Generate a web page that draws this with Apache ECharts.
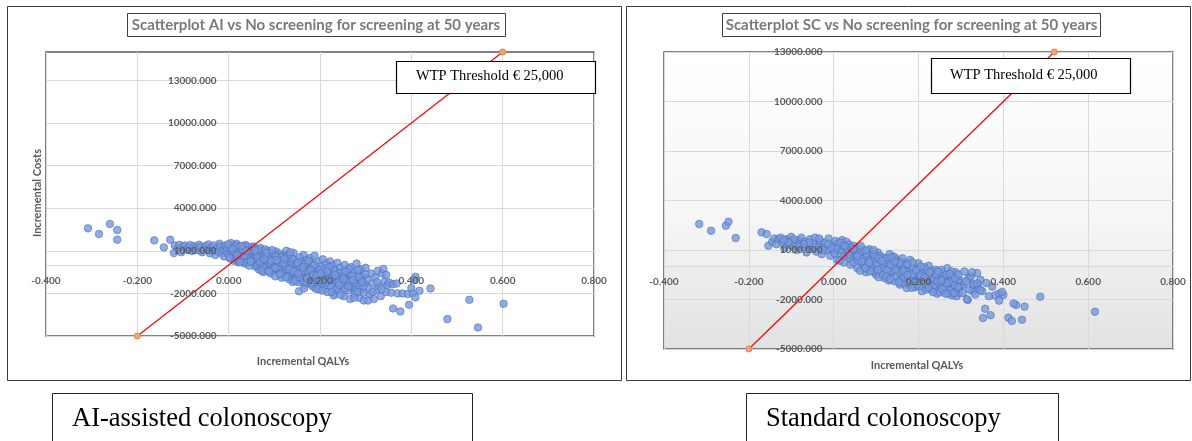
<!DOCTYPE html>
<html>
<head>
<meta charset="utf-8">
<script src="https://cdn.jsdelivr.net/npm/echarts@6/dist/echarts.min.js"></script>
<style>
html,body{margin:0;padding:0;background:#fff;}
#chart{width:1192px;height:441px;}
</style>
</head>
<body>
<div id="chart"></div>
<script>
// incremental QALYs / incremental costs
var aiPoints = [
  [-0.308,2580],[-0.284,2185],[-0.260,2890],[-0.244,2470],[-0.244,1785],[-0.163,1735],[-0.142,1240],[-0.128,1785],[-0.120,845],
  [-0.118,1380],[-0.112,1150],[-0.108,1420],[-0.104,900],[-0.100,1300],[-0.095,1380],[-0.092,1100],[-0.088,1250],[-0.084,1400],
  [-0.080,980],[-0.076,1320],[-0.072,1180],[-0.068,1050],[-0.065,1420],[-0.061,1280],[-0.058,900],[-0.054,1150],[-0.050,1350],
  [-0.047,1100],[-0.044,1450],[-0.041,820],[-0.038,1250],[-0.035,1000],[-0.032,1380],[-0.029,700],[-0.026,1180],[-0.023,950],
  [-0.020,1500],[-0.018,1300],[-0.015,820],[-0.012,1100],[-0.010,600],[-0.008,1350],[-0.005,980],[-0.003,1200],[0.000,750],
  [0.002,1420],[0.004,1050],[0.005,450],[0.007,1250],[0.009,880],[0.011,300],[0.013,1100],[0.015,650],[0.017,1500],[0.019,950],
  [0.021,200],[0.023,1300],[0.025,720],[0.027,1050],[0.029,400],[0.031,1200],[0.033,850],[0.035,100],[0.037,1400],[0.039,600],
  [0.041,980],[0.043,300],[0.045,1150],[0.047,750],[0.049,500],[0.050,1280],[0.052,900],[0.054,200],[0.056,1150],[0.058,-100],
  [0.060,650],[0.062,1050],[0.064,350],[0.066,-300],[0.068,800],[0.070,1200],[0.072,100],[0.074,550],[0.076,-500],[0.078,950],
  [0.080,300],[0.082,-150],[0.084,700],[0.086,1000],[0.088,0],[0.090,450],[0.092,-600],[0.094,850],[0.096,200],[0.098,-350],
  [0.100,600],[0.102,-800],[0.104,950],[0.106,150],[0.108,-400],[0.110,500],[0.112,800],[0.114,-100],[0.116,-900],[0.118,300],
  [0.120,700],[0.122,-550],[0.124,50],[0.126,1000],[0.128,-250],[0.130,400],[0.132,-1000],[0.134,650],[0.136,-600],[0.138,150],
  [0.140,-150],[0.142,850],[0.144,-750],[0.146,350],[0.148,-400],[0.150,0],[0.152,-1200],[0.154,-1850],[0.156,550],[0.158,-700],
  [0.160,200],[0.162,-1000],[0.164,700],[0.166,-300],[0.168,-1400],[0.170,350],[0.172,-600],[0.174,-100],[0.176,-1150],[0.178,500],
  [0.180,-850],[0.182,100],[0.184,-1500],[0.186,-350],[0.188,650],[0.190,-1000],[0.192,-200],[0.194,-1300],[0.196,250],[0.198,-700],
  [0.200,-1700],[0.202,-100],[0.204,-1100],[0.206,400],[0.208,-500],[0.210,-1500],[0.212,-800],[0.214,100],[0.216,-1900],[0.218,-300],
  [0.220,-1200],[0.222,250],[0.224,-650],[0.226,-1600],[0.228,-50],[0.230,-1000],[0.232,-2000],[0.234,-400],[0.236,-1350],[0.238,150],
  [0.240,-800],[0.242,-1750],[0.244,-200],[0.246,-1100],[0.248,-550],[0.250,-1500],[0.252,-2200],[0.254,0],[0.256,-900],[0.258,-1300],
  [0.260,-400],[0.262,-1800],[0.264,-700],[0.266,-2400],[0.268,-150],[0.270,-1100],[0.272,-1600],[0.274,-500],[0.276,-2000],[0.278,-900],
  [0.280,100],[0.282,-1400],[0.284,-600],[0.286,-2300],[0.288,-1100],[0.290,-300],[0.292,-1700],[0.294,-800],[0.296,-2500],[0.298,-1300],
  [0.300,-200],[0.303,-1000],[0.306,-1600],[0.309,-2100],[0.312,-600],[0.315,-1300],[0.318,-2400],[0.321,-900],[0.324,-1800],[0.327,-400],
  [0.330,-1500],[0.333,-2200],[0.336,-590],[0.339,-280],[0.342,-1150],[0.345,-1900],[0.348,-1400],
  [0.012,780],[0.018,1180],[0.024,520],[0.030,900],[0.036,1320],[0.042,700],[0.048,1000],[0.053,420],[0.057,780],[0.063,-50],
  [0.067,480],[0.071,880],[0.075,250],[0.079,620],[0.083,-350],[0.087,380],[0.091,750],[0.095,-200],[0.099,300],[0.103,650],
  [0.107,-150],[0.111,200],[0.115,550],[0.119,-450],[0.123,-50],[0.127,350],[0.131,-700],[0.135,-300],[0.139,450],[0.143,-500],
  [0.147,-950],[0.151,150],[0.155,-300],[0.159,-650],[0.163,-1250],[0.167,100],[0.171,-450],[0.175,-850],[0.179,-250],[0.183,-1150],
  [0.187,0],[0.191,-550],[0.195,-900],[0.199,-350],[0.203,-1350],[0.207,-750],[0.211,-250],[0.215,-1100],[0.219,-600],[0.223,-1450],
  [0.227,-900],[0.231,-350],[0.235,-1700],[0.239,-1000],[0.243,-550],[0.247,-1300],[0.251,-800],[0.255,-1650],[0.259,-1050],[0.263,-250],
  [0.267,-1500],[0.271,-750],[0.275,-1250],[0.279,-1750],[0.283,-350],[0.287,-1550],[0.291,-1000],[0.295,-1950],[0.299,-650],
  [0.010,1000],[0.020,400],[0.030,1100],[0.040,150],[0.060,900],[0.070,-200],[0.080,1100],[0.090,150],[0.110,-300],[0.120,100],
  [0.130,700],[0.140,-1200],[0.160,-450],[0.170,-1250],[0.180,-350],[0.190,-1650],[0.210,-1050],[0.220,-150],[0.230,-2150],[0.240,-1200],
  [0.005,1550],[0.015,1350],[0.025,200],[0.035,650],[0.045,-50],[0.055,1300],[0.065,1100],[0.075,-150],[0.085,550],[0.095,1050],
  [0.105,350],[0.115,-600],[0.125,-850],[0.135,900],[0.145,-1100],[0.155,-850],[0.165,-1650],[0.175,300],[0.185,-700],[0.195,-1700],
  [0.205,-1800],[0.215,-450],[0.225,-1900],[0.235,-750],[0.245,-2100],[0.255,-450],[0.265,-1200],[0.275,-2300],[0.285,-850],[0.295,-1500],
  [0.305,-2500],[0.315,-1900],[0.325,-1200],[0.335,-1700],[0.345,-700],[0.062,600],[0.072,-400],[0.082,850],[0.092,300],[0.102,-200],
  [0.112,-650],[0.122,450],[0.132,-300],[0.142,-450],[0.152,-600],[0.162,-150],[0.172,-950],[0.182,-1300],[0.192,-750],[0.202,-600],
  [0.212,-1250],[0.222,-1000],[0.232,-700],[0.242,-1400],[0.252,-1000],[0.262,-1500],[0.272,-1050],[0.282,-1900],[0.292,-1200],[0.002,500],
  [-0.002,1450],[0.008,1150],[0.018,700],[0.028,1350],[0.038,1000],[0.048,250],[0.058,1000],[0.068,200],[0.078,400],[0.088,-450],
  [0.352,-1250],[0.360,-1350],[0.368,-1300],[0.356,-1950],[0.370,-2000],[0.381,-2000],[0.392,-2050],[0.403,-1980],[0.409,-825],
  [0.407,-1050],[0.400,-1620],[0.418,-1810],[0.442,-1650],[0.409,-2280],[0.360,-3060],[0.376,-3270],[0.395,-2800],[0.527,-2450],
  [0.602,-2730],[0.479,-3810],[0.546,-4400]
];

var scPoints = [
  [-0.317,2575],[-0.289,2170],[-0.254,2470],[-0.248,2715],[-0.231,1727],[-0.170,2070],[-0.158,1970],[-0.154,1260],
  [-0.145,1500],[-0.140,1700],[-0.135,1350],[-0.130,1650],[-0.125,1750],[-0.120,1450],[-0.116,1100],[-0.112,1650],[-0.108,1300],
  [-0.104,1550],[-0.100,1800],[-0.096,1200],[-0.092,1450],[-0.088,1000],[-0.084,1600],[-0.080,1350],[-0.076,1750],[-0.072,1150],
  [-0.068,1500],[-0.064,850],[-0.060,1300],[-0.056,1650],[-0.052,1050],[-0.048,1400],[-0.044,1750],[-0.040,900],[-0.036,1250],
  [-0.032,1550],[-0.028,750],[-0.024,1150],[-0.020,1450],[-0.016,1000],[-0.012,1700],[-0.008,650],[-0.004,1300],[0.000,950],
  [0.004,1550],[0.008,400],[0.012,1200],[0.016,800],[0.020,1600],[0.024,250],[0.028,1050],[0.032,600],[0.036,1350],[0.040,100],
  [0.044,900],[0.048,1250],[0.052,450],[0.056,-100],[0.060,1100],[0.064,700],[0.068,200],[0.072,950],[0.076,-350],[0.080,500],
  [0.084,1050],[0.088,-100],[0.092,650],[0.096,250],[0.100,-500],[0.104,850],[0.108,100],[0.112,-250],[0.116,550],[0.120,-700],
  [0.124,300],[0.128,-50],[0.132,750],[0.136,-400],[0.140,150],[0.144,-900],[0.148,450],[0.152,-200],[0.156,-1100],[0.160,300],
  [0.164,-550],[0.168,50],[0.172,-1300],[0.176,-250],[0.180,400],[0.184,-800],[0.188,-100],[0.192,-1250],[0.196,-450],[0.200,200],
  [0.204,-900],[0.208,-1500],[0.212,-300],[0.216,-700],[0.220,-1200],[0.224,50],[0.228,-550],[0.232,-1400],[0.236,-900],[0.240,-200],
  [0.244,-1650],[0.248,-650],[0.252,-1100],[0.256,-400],[0.260,-1500],[0.264,-850],[0.268,-100],[0.272,-1300],[0.276,-600],[0.280,-1750],
  [0.284,-950],[0.288,-350],[0.292,-1450],[0.296,-800],[0.300,-1200],
  [0.002,800],[0.010,1400],[0.014,350],[0.018,1000],[0.022,1300],[0.026,650],[0.030,1500],[0.034,950],[0.038,500],[0.042,1150],
  [0.046,250],[0.050,800],[0.054,1000],[0.058,350],[0.062,-250],[0.066,900],[0.070,500],[0.074,150],[0.078,750],[0.082,-200],
  [0.086,400],[0.090,850],[0.094,-300],[0.098,450],[0.102,150],[0.106,-650],[0.110,650],[0.114,-100],[0.118,250],[0.122,-450],
  [0.126,500],[0.130,-850],[0.134,100],[0.138,-300],[0.142,600],[0.146,-600],[0.150,50],[0.154,-350],[0.158,-800],[0.162,500],
  [0.166,-1000],[0.170,-300],[0.174,150],[0.178,-650],[0.182,-1100],[0.186,250],[0.190,-500],[0.194,-900],[0.198,-150],[0.202,-1200],
  [0.206,-450],[0.210,-850],[0.214,-50],[0.218,-1400],[0.222,-600],[0.226,-1000],[0.230,-250],[0.234,-800],[0.238,-1300],[0.242,-450],
  [0.246,-1000],[0.250,-1550],[0.254,-200],[0.258,-750],[0.262,-1250],[0.266,-500],[0.270,-1650],[0.274,-950],[0.278,-300],[0.282,-1300],
  [0.286,-700],[0.290,-1800],[0.294,-500],[0.298,-1000],
  [0.006,1100],[0.016,1450],[0.026,1250],[0.036,750],[0.046,1050],[0.056,650],[0.066,300],[0.076,1000],[0.086,-300],[0.096,700],
  [0.106,500],[0.116,-500],[0.126,-250],[0.136,550],[0.146,-200],[0.156,200],[0.166,-700],[0.176,-1000],[0.186,-450],[0.196,-1100],
  [0.206,0],[0.216,-1050],[0.226,-350],[0.236,-1150],[0.246,-300],[0.256,-1350],[0.266,-1000],[0.276,-1450],[0.286,-1150],[0.296,-1600],
  [0.306,-1100],[0.318,-700],[0.328,-1500],[0.340,-1150],[-0.006,1150],[-0.014,1350],[-0.026,1000],[-0.034,1700],[-0.046,1200],[-0.058,1450],
  [-0.070,1350],[-0.082,1200],[-0.094,1650],[-0.106,1450],[-0.118,1600],[0.064,1250],[0.074,-100],[0.084,250],[0.094,1000],[0.104,-200],
  [0.114,350],[0.124,-600],[0.134,-750],[0.144,300],[0.154,-950],[0.164,-250],[0.174,-500],[0.184,-1300],[0.194,-250],[0.204,-550],
  [0.214,-650],[0.224,-1300],[0.234,-1550],[0.244,-900],[0.254,-850],[0.264,-1650],[0.274,-450],[0.284,-1600],[0.294,-1250],
  [0.304,-1600],[0.308,-300],[0.312,-900],[0.316,-2030],[0.320,-1400],[0.324,-600],[0.328,-1100],[0.331,-1080],[0.334,-1700],
  [0.338,-400],[0.342,-1350],[0.346,-800],[0.350,-1500],[0.326,-350],[0.338,-1020],[0.346,-1420],[0.314,-1970],
  [0.374,-1220],[0.380,-1750],[0.390,-1650],[0.400,-1720],[0.390,-2070],[0.430,-2330],[0.450,-2430],[0.487,-1830],[0.357,-2560],
  [0.370,-2950],[0.352,-3120],[0.412,-3100],[0.420,-3300],[0.444,-3230],[0.616,-2740],[0.360,-1000],[0.366,-1800],[0.397,-1540],[0.424,-2240]
];

// WTP threshold line end points (slope 25,000 per QALY)
var aiWtp = [[-0.2,-5000],[0.6,15000]];
var scWtp = [[-0.2,-5000],[0.52,13000]];

var xTicks = [-0.4,-0.2,0,0.2,0.4,0.6,0.8];
var yTicks = [-5000,-2000,1000,4000,7000,10000,13000];
var aiYMax = 15000;
var scYMax = 13000;

var chartTitles = ['Scatterplot AI vs No screening for screening at 50 years', 'Scatterplot SC vs No screening for screening at 50 years'];
var wtpLabel = 'WTP Threshold \u20ac 25,000';
var xName = 'Incremental QALYs';
var yName = 'Incremental Costs';
var captions = ['AI-assisted colonoscopy', 'Standard colonoscopy'];

var chart = echarts.init(document.getElementById('chart'));

var labelFont = {fontFamily: 'Lato', fontWeight: 'bold', fontSize: 10, color: '#595959'};
var gridLine = {show: true, lineStyle: {color: '#d9d9d9', width: 1}};
var fmt = function (v) { return v.toFixed(3); };

// first axis of each pair carries the labels (drawn above the dots) and is moved onto zero below,
// second one only draws the grid lines behind the dots
function xAxisPair(gi, margin) {
  return [
    { type: 'value', gridIndex: gi, position: 'bottom', min: -0.4, max: 0.8, z: 10,
      axisLine: {show: false, onZero: false}, axisTick: {show: false, customValues: xTicks}, splitLine: {show: false},
      axisLabel: Object.assign({margin: margin, customValues: xTicks, showMinLabel: true, showMaxLabel: true, formatter: fmt}, labelFont) },
    { type: 'value', gridIndex: gi, position: 'top', min: -0.4, max: 0.8, z: 0,
      axisLine: {show: false, onZero: false}, axisTick: {show: false, customValues: xTicks}, axisLabel: {show: false},
      splitLine: gridLine }
  ];
}

function yAxisPair(gi, max, margin) {
  return [
    { type: 'value', gridIndex: gi, position: 'left', min: -5000, max: max, z: 10,
      axisLine: {show: false, onZero: false}, splitLine: {show: false},
      axisTick: {show: false, customValues: yTicks},
      axisLabel: Object.assign({margin: margin, customValues: yTicks, showMinLabel: true, showMaxLabel: true, formatter: fmt}, labelFont) },
    { type: 'value', gridIndex: gi, position: 'right', min: -5000, max: max, z: 0,
      axisLine: {show: false, onZero: false}, axisLabel: {show: false},
      axisTick: {show: false, customValues: yTicks.concat([0])},
      splitLine: gridLine }
  ];
}

var dotStyle = {color: '#7b97d8', borderColor: '#4472c4', borderWidth: 0.8};
var wtpLine = {color: '#ff0000', width: 1.2};
var wtpDot = {color: '#f4a27a', borderColor: '#ed7d31', borderWidth: 1};

function box(x, y, w, h, stroke, lw, fill) {
  return {type: 'rect', shape: {x: x, y: y, width: w, height: h},
    style: {fill: fill || 'none', stroke: stroke, lineWidth: lw}, z: 100};
}
function label(x, y, text, font, color, align, extra) {
  return Object.assign({type: 'text', x: x, y: y, z: 101,
    style: {text: text, font: font, fill: color, align: align || 'center', verticalAlign: 'middle'}}, extra || {});
}

var grids = [
  {left: 46, top: 52, width: 548, height: 284, show: true, backgroundColor: '#fff', outerBoundsMode: 'none', containLabel: false,
   borderColor: '#595959', borderWidth: 1.5},
  {left: 664, top: 52, width: 509, height: 297, show: true, outerBoundsMode: 'none', containLabel: false,
   backgroundColor: {type: 'linear', x: 0, y: 0, x2: 0, y2: 1,
     colorStops: [{offset: 0, color: '#ffffff'}, {offset: 0.55, color: '#f6f6f6'}, {offset: 1, color: '#e2e2e2'}]},
   borderColor: '#595959', borderWidth: 1.5}
];

chart.setOption({
  animation: false,
  grid: grids,
  xAxis: xAxisPair(0, 11).concat(xAxisPair(1, 10)),
  yAxis: yAxisPair(0, aiYMax, 12).concat(yAxisPair(1, scYMax, 11)),
  series: [
    {type: 'scatter', xAxisIndex: 0, yAxisIndex: 0, data: aiPoints, symbol: 'circle', symbolSize: 7.5, itemStyle: dotStyle, z: 2},
    {type: 'line', xAxisIndex: 0, yAxisIndex: 0, data: aiWtp, symbol: 'circle', symbolSize: 6, clip: false,
     lineStyle: wtpLine, itemStyle: wtpDot, z: 3},
    {type: 'scatter', xAxisIndex: 2, yAxisIndex: 2, data: scPoints, symbol: 'circle', symbolSize: 7.5, itemStyle: dotStyle, z: 2},
    {type: 'line', xAxisIndex: 2, yAxisIndex: 2, data: scWtp, symbol: 'circle', symbolSize: 6, clip: false,
     lineStyle: wtpLine, itemStyle: wtpDot, z: 3}
  ],
  graphic: [
    // panel frames
    box(7.5, 6.5, 614, 374, '#3a3a3a', 1),
    box(626.5, 6.5, 564, 374, '#3a3a3a', 1),
    // chart titles
    box(127.5, 13.5, 378, 23, '#404040', 1, '#fff'),
    label(316, 25, chartTitles[0], 'bold 15px Lato', '#7a7a7a'),
    box(722.5, 13.5, 378, 23, '#404040', 1, '#fff'),
    label(911.5, 25, chartTitles[1], 'bold 15px Lato', '#7a7a7a'),
    // WTP threshold boxes
    box(396.5, 61.5, 199, 32, '#000', 1.2, '#fff'),
    label(416, 76, wtpLabel, '14.5px "Liberation Serif"', '#000', 'left'),
    box(931.5, 58.5, 199, 35, '#000', 1.2, '#fff'),
    label(950, 75, wtpLabel, '14.5px "Liberation Serif"', '#000', 'left'),
    // axis names
    label(37, 193, yName, 'bold 11px Lato', '#595959', 'center', {rotation: Math.PI / 2}),
    label(303, 361, xName, 'bold 11px Lato', '#595959'),
    label(917, 365, xName, 'bold 11px Lato', '#595959'),
    // captions
    box(52.5, 393.5, 420, 60, '#222', 1, '#fff'),
    label(72, 419, captions[0], '26.5px "Liberation Serif"', '#000', 'left'),
    box(746.5, 393.5, 312, 60, '#222', 1, '#fff'),
    label(766, 419, captions[1], '26.5px "Liberation Serif"', '#000', 'left')
  ]
});

// Excel places the tick labels next to the crossing axes (value 0),
// so shift the label axes there using the chart's own scales
var xOff = [], yOff = [];
[0, 1].forEach(function (g) {
  var ax = g * 2;
  var zeroX = chart.convertToPixel({xAxisIndex: ax}, 0);
  var zeroY = chart.convertToPixel({yAxisIndex: ax}, 0);
  var gr = grids[g];
  yOff[g] = -(zeroX - gr.left);
  xOff[g] = -(gr.top + gr.height - zeroY);
});
chart.setOption({
  xAxis: [{offset: xOff[0]}, {}, {offset: xOff[1]}, {}],
  yAxis: [{offset: yOff[0]}, {}, {offset: yOff[1]}, {}]
});
</script>
</body>
</html>
